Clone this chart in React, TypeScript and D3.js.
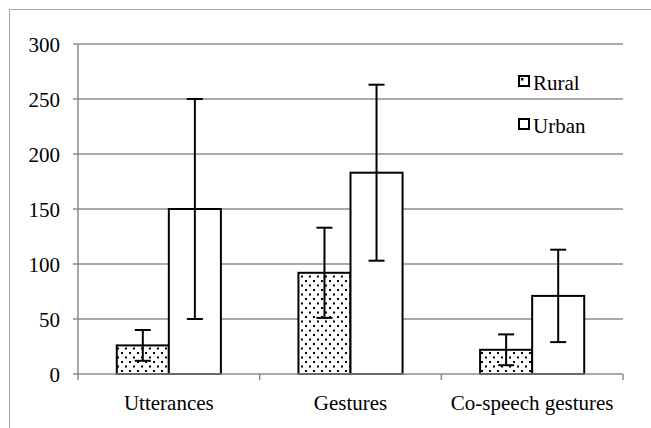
import * as d3 from "d3";

const categories = ["Utterances", "Gestures", "Co-speech gestures"];
const seriesNames = ["Rural", "Urban"];
const ruralMeans = [26, 92, 22];
const ruralErrors = [14, 41, 14];
const urbanMeans = [150, 183, 71];
const urbanErrors = [100, 80, 42];
const yTicks = [0, 50, 100, 150, 200, 250, 300];

const W = 651;
const H = 428;
const margin = { left: 78, right: 28, top: 44, bottom: 54 };
const font = "'Liberation Serif', 'Times New Roman', serif";

export default function App() {
  const x = d3
    .scaleBand()
    .domain(categories)
    .range([margin.left, W - margin.right])
    .paddingInner(0)
    .paddingOuter(0);
  const inner = d3
    .scaleBand()
    .domain(seriesNames)
    .range([0, x.bandwidth()])
    .paddingOuter(0.745)
    .paddingInner(0);
  const y = d3.scaleLinear().domain([0, 300]).range([H - margin.bottom, margin.top]);

  const series = [
    { name: "Rural", means: ruralMeans, errs: ruralErrors, fill: "url(#dots)" },
    { name: "Urban", means: urbanMeans, errs: urbanErrors, fill: "#fff" },
  ];

  const x0 = margin.left;
  const x1 = W - margin.right;
  const base = y(0);

  return (
    <svg width={W} height={H} style={{ position: "absolute", left: 0, top: 0, fontFamily: font }}>
      <defs>
        <pattern id="dots" width="8" height="9" patternUnits="userSpaceOnUse">
          <rect width="8" height="9" fill="#fff" />
          <rect x="1" y="1" width="2" height="2" fill="#000" />
          <rect x="5" y="5.5" width="2" height="2" fill="#000" />
        </pattern>
      </defs>
      <rect x={0} y={0} width={W} height={H} fill="#fff" />
      <path d={`M9.5,${H} V9.5 H${W}`} fill="none" stroke="#a6a6a6" strokeWidth={1} />

      {yTicks.map((t) => (
        <g key={t}>
          {t > 0 && (
            <line x1={x0} x2={x1} y1={y(t)} y2={y(t)} stroke="#8c8c8c" strokeWidth={1.5} />
          )}
          <line x1={x0 - 5} x2={x0} y1={y(t)} y2={y(t)} stroke="#8c8c8c" strokeWidth={1.5} />
          <text x={x0 - 18} y={y(t) + 8} textAnchor="end" fontSize={21} fill="#000">
            {t}
          </text>
        </g>
      ))}
      <line x1={x0} x2={x0} y1={margin.top} y2={base} stroke="#8c8c8c" strokeWidth={1.5} />

      {series.map((s) =>
        categories.map((c, i) => {
          const bx = (x(c) ?? 0) + (inner(s.name) ?? 0);
          const bw = inner.bandwidth();
          return (
            <rect
              key={s.name + c}
              x={bx}
              y={y(s.means[i])}
              width={bw}
              height={base - y(s.means[i])}
              fill={s.fill}
              stroke="#000"
              strokeWidth={2}
            />
          );
        })
      )}

      <line x1={x0} x2={x1} y1={base} y2={base} stroke="#8c8c8c" strokeWidth={1.5} />
      {[0, 1, 2, 3].map((k) => {
        const px = k < 3 ? x(categories[k]) ?? 0 : x1;
        return <line key={k} x1={px} x2={px} y1={base} y2={base + 6} stroke="#8c8c8c" strokeWidth={1.5} />;
      })}

      {series.map((s) =>
        categories.map((c, i) => {
          const cx = (x(c) ?? 0) + (inner(s.name) ?? 0) + inner.bandwidth() / 2;
          const hi = y(s.means[i] + s.errs[i]);
          const lo = y(s.means[i] - s.errs[i]);
          return (
            <g key={"e" + s.name + c} stroke="#000" strokeWidth={2}>
              <line x1={cx} x2={cx} y1={hi} y2={lo} />
              <line x1={cx - 8} x2={cx + 8} y1={hi} y2={hi} />
              <line x1={cx - 8} x2={cx + 8} y1={lo} y2={lo} />
            </g>
          );
        })
      )}

      {categories.map((c) => (
        <text
          key={c}
          x={(x(c) ?? 0) + x.bandwidth() / 2}
          y={410}
          textAnchor="middle"
          fontSize={21}
          fill="#000"
        >
          {c}
        </text>
      ))}

      {series.map((s, i) => (
        <g key={"lg" + s.name} transform={`translate(518,${75 + i * 43})`}>
          <rect x={1} y={1} width={10} height={10} fill="#fff" stroke="#000" strokeWidth={2} />
          {s.name === "Rural" && <rect x={3} y={3} width={2.5} height={2.5} fill="#000" />}
          <text x={15} y={15} fontSize={21} fill="#000">
            {s.name}
          </text>
        </g>
      ))}
    </svg>
  );
}
